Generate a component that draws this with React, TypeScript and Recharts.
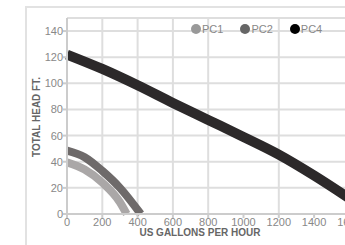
import { CartesianGrid, Legend, Line, LineChart, XAxis, YAxis } from 'recharts';

const X_TICKS = [0, 200, 400, 600, 800, 1000, 1200, 1400, 1600, 1800, 2000];
const Y_TICKS = [0, 20, 40, 60, 80, 100, 120, 140];

const PC1_GPH = [0, 100, 200, 300, 338];
const PC1_HEAD = [39.5, 34, 24, 9, 0];
const PC2_GPH = [0, 100, 200, 300, 418];
const PC2_HEAD = [48.5, 43.5, 33, 20, 0];
const PC4_GPH = [0, 200, 400, 600, 800, 1000, 1200, 1400, 1600];
const PC4_HEAD = [122, 111, 98.5, 85, 72, 59, 45.5, 29.5, 12];

const SERIES = [
  { name: 'PC1', gph: PC1_GPH, head: PC1_HEAD, stroke: '#aaa7a7', dot: '#999999', width: 8 },
  { name: 'PC2', gph: PC2_GPH, head: PC2_HEAD, stroke: '#6e6a6a', dot: '#666666', width: 8 },
  { name: 'PC4', gph: PC4_GPH, head: PC4_HEAD, stroke: '#2c292a', dot: '#000000', width: 10 },
];

const FONT = '"Liberation Sans", Arial, Helvetica, sans-serif';

const toRows = (gph: number[], head: number[]) => gph.map((g, i) => ({ gph: g, head: head[i] }));

function renderLegend() {
  return (
    <div style={{ display: 'flex', fontFamily: FONT, fontSize: 11, color: '#888', lineHeight: '12px' }}>
      {SERIES.map((s) => (
        <div key={s.name} style={{ display: 'flex', alignItems: 'center', marginRight: 17 }}>
          <span style={{ width: 10, height: 10, borderRadius: 5, background: s.dot, marginRight: 1 }} />
          <span>{s.name}</span>
        </div>
      ))}
    </div>
  );
}

function YTitle() {
  return (
    <text
      x={36}
      y={117}
      transform="rotate(-90 36 117)"
      textAnchor="middle"
      dominantBaseline="central"
      fill="#666"
      fontSize={10}
      fontWeight="bold"
      fontFamily={FONT}
    >
      TOTAL HEAD FT.
    </text>
  );
}

function XTitle() {
  return (
    <text
      x={200}
      y={232.5}
      textAnchor="middle"
      dominantBaseline="central"
      fill="#666"
      fontSize={10}
      fontWeight="bold"
      fontFamily={FONT}
    >
      US GALLONS PER HOUR
    </text>
  );
}

// light outer card border, drawn inside the svg
function Frame() {
  return <rect x={26} y={7} width={500} height={300} fill="none" stroke="#e2e2e2" strokeWidth={2} />;
}

export default function App() {
  return (
    <div style={{ position: 'absolute', left: 0, top: 0, width: 345, height: 245, overflow: 'hidden', background: '#fff' }}>
      <LineChart width={420} height={245} margin={{ top: 18, right: 0, bottom: 2, left: 0 }}>
        <Frame />
        <CartesianGrid stroke="#dedede" strokeWidth={2} />
        <XAxis
          dataKey="gph"
          type="number"
          domain={[0, 2000]}
          ticks={X_TICKS}
          allowDuplicatedCategory={false}
          height={29}
          stroke="#cccccc"
          strokeWidth={2}
          tickSize={4}
          tickMargin={0}
          tick={{ fill: '#888', fontSize: 11, fontFamily: FONT }}
          label={<XTitle />}
        />
        <YAxis
          type="number"
          domain={[0, 150]}
          ticks={Y_TICKS}
          width={67}
          stroke="#cccccc"
          strokeWidth={2}
          tickSize={4}
          tickMargin={0}
          tick={{ fill: '#888', fontSize: 11, fontFamily: FONT }}
          label={<YTitle />}
        />
        <Legend
          verticalAlign="middle"
          align="center"
          content={renderLegend}
          wrapperStyle={{ top: 23, left: 191, width: 'auto' }}
        />
        {SERIES.map((s) => (
          <Line
            key={s.name}
            name={s.name}
            data={toRows(s.gph, s.head)}
            dataKey="head"
            type="monotone"
            stroke={s.stroke}
            strokeWidth={s.width}
            dot={false}
            activeDot={false}
            isAnimationActive={false}
          />
        ))}
      </LineChart>
    </div>
  );
}
